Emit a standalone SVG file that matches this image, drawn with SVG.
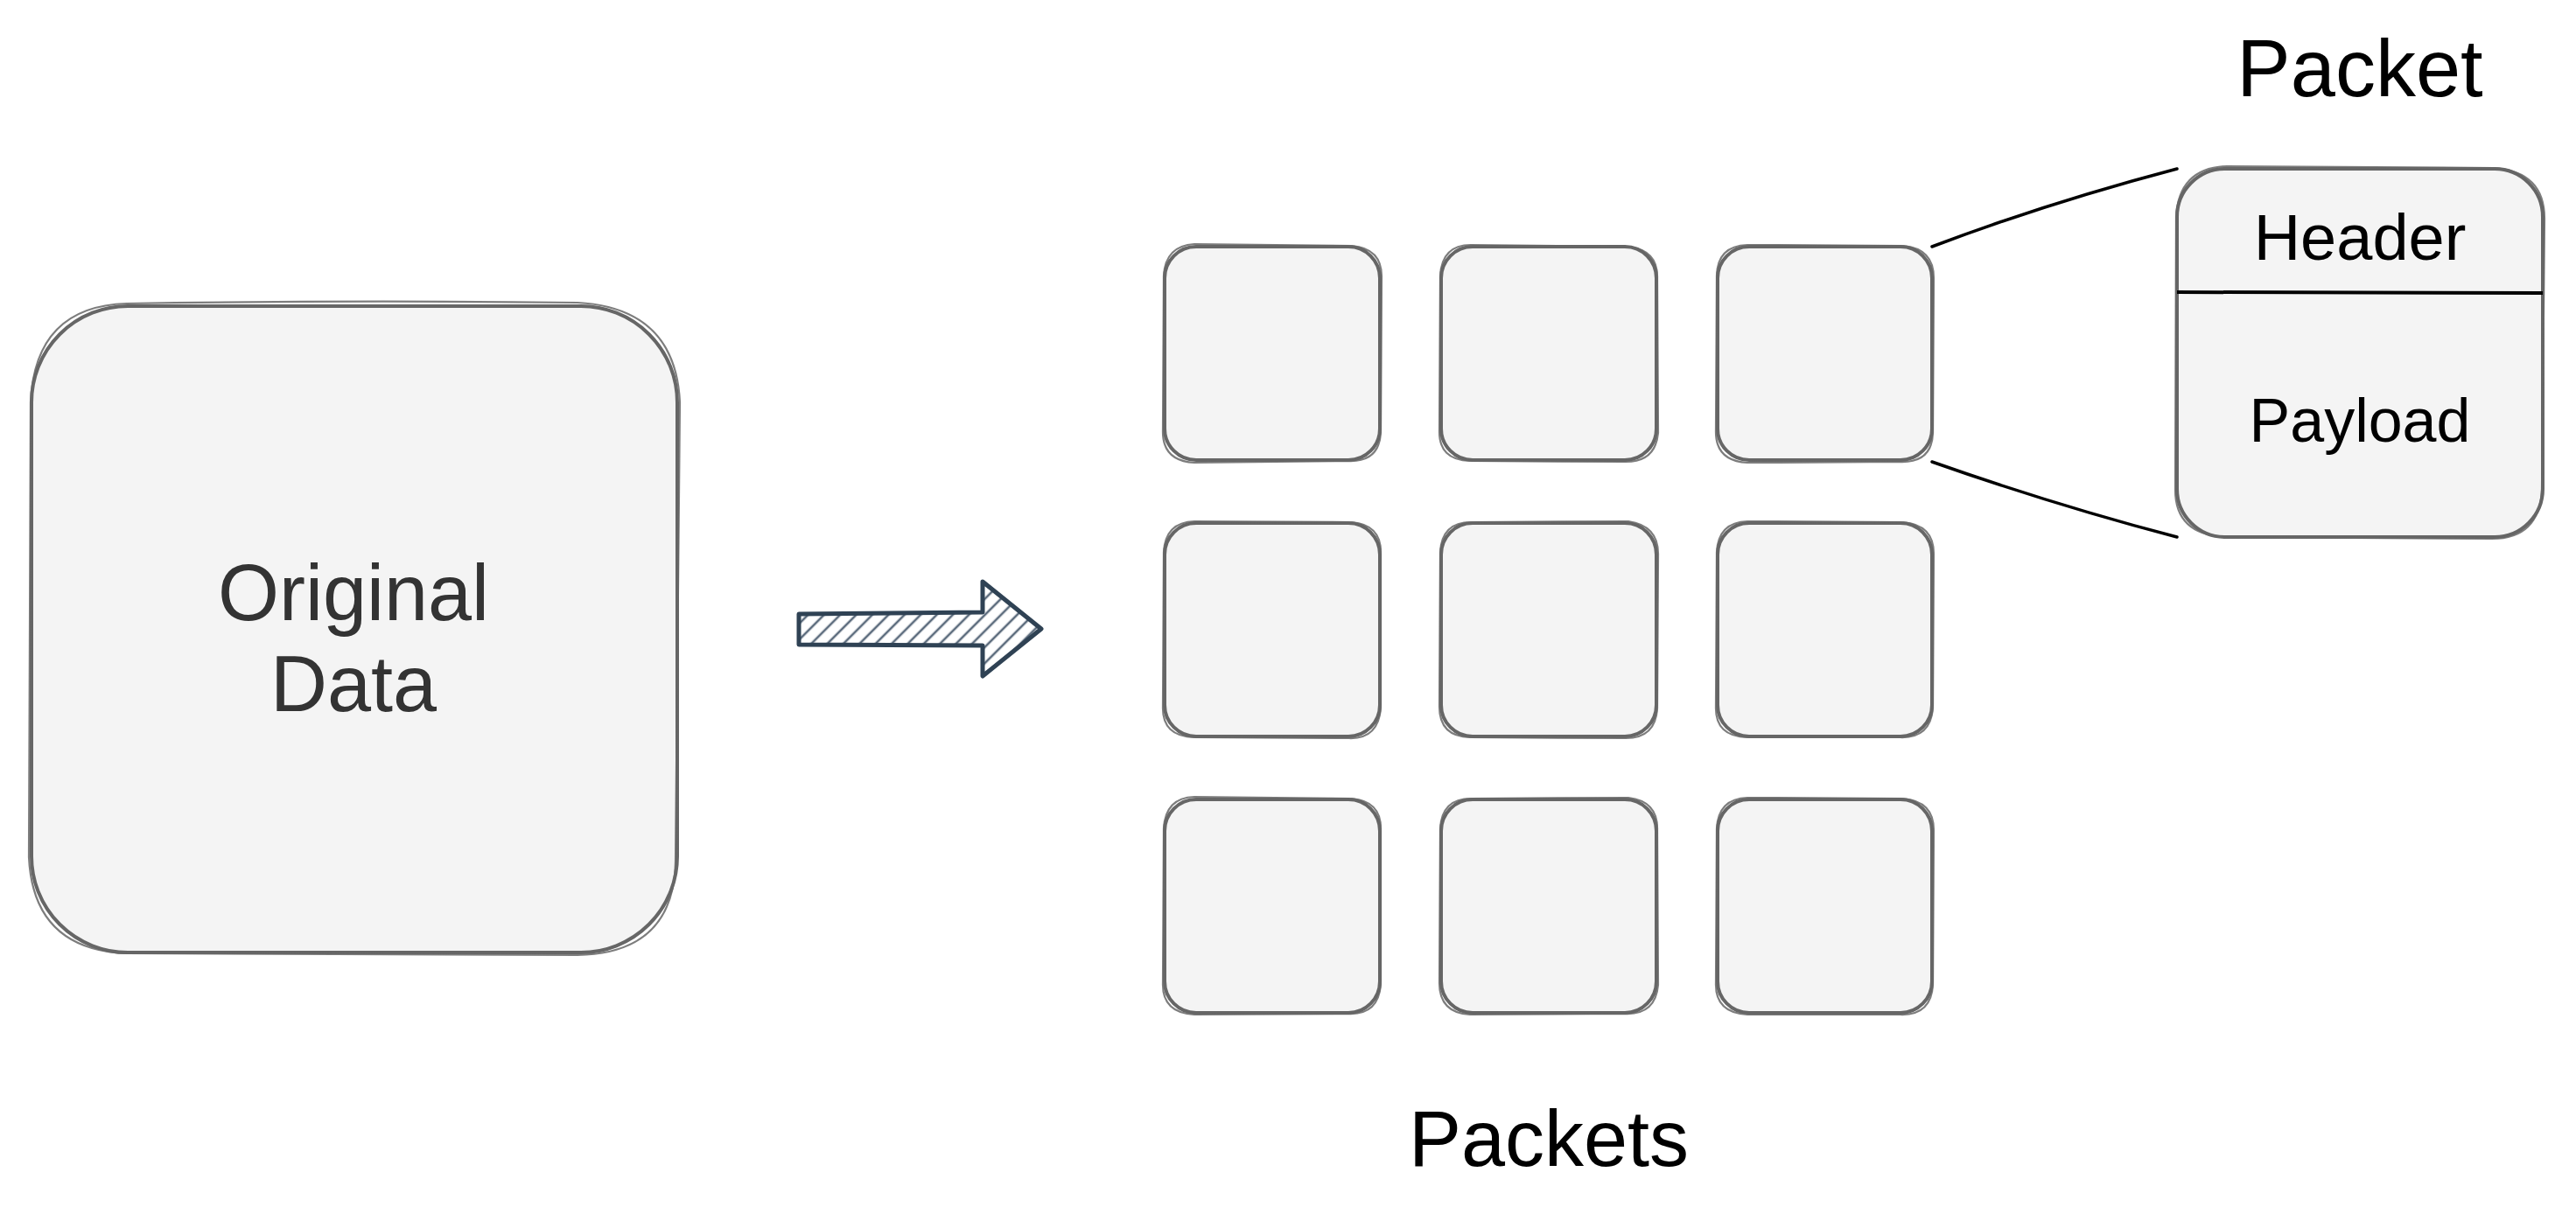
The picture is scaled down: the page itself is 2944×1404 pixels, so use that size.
<svg xmlns="http://www.w3.org/2000/svg" width="2944" height="1404" viewBox="0 0 2944 1404">
<style>
.box{fill:#f4f4f4;stroke:#666;stroke-width:4}
.sk{fill:none;stroke:#666;stroke-width:2.2;opacity:.85}
.lbl{font-family:"Liberation Sans",Arial,sans-serif;text-anchor:middle}
.con{fill:none;stroke:#000;stroke-width:3.5;stroke-linecap:round}
</style>
<defs>
<pattern id="hatch" width="13" height="13" patternUnits="userSpaceOnUse" patternTransform="rotate(45)">
<line x1="6" y1="0" x2="6" y2="13" stroke="#5b6b7c" stroke-width="2.6"/>
</pattern>
</defs>
<rect width="2944" height="1404" fill="#fff"/>

<g id="original-data">
<rect class="box" x="36" y="350" width="738" height="739" rx="110"/>
<path class="sk" d="M145 347 Q400 343 660 346 Q772 352 777 460 L772 985 Q770 1090 660 1092 L145 1090 Q38 1086 33 980 L35 460 Q40 350 145 347 Z"/>
<text class="lbl" x="404" y="709" font-size="90" fill="#333">Original</text>
<text class="lbl" x="404" y="813" font-size="90" fill="#333">Data</text>
</g>

<g id="split-arrow">
<path d="M913 702 L1123 700 L1123 665 L1190 719 L1123 773 L1123 738 L913 737 Z" fill="url(#hatch)" stroke="#2f4254" stroke-width="5" stroke-linejoin="round"/>
</g>

<g id="packet-1-1"><rect class="box" x="1331" y="282" width="246" height="244" rx="36"/><path class="sk" d="M1365 279 L1545 281 Q1580 284 1579 318 L1578 495 Q1576 528 1542 527 L1365 529 Q1328 527 1329 492 L1330 315 Q1332 281 1365 279Z"/></g>
<g id="packet-1-2"><rect class="box" x="1647" y="282" width="246" height="244" rx="36"/><path class="sk" d="M1681 280 L1861 282 Q1895 286 1894 318 L1895 495 Q1892 528 1858 528 L1680 527 Q1644 526 1645 492 L1646 315 Q1648 280 1681 280Z"/></g>
<g id="packet-1-3"><rect class="box" x="1963" y="282" width="245" height="244" rx="36"/><path class="sk" d="M1997 280 L2175 281 Q2210 284 2210 318 L2209 495 Q2208 529 2172 528 L1997 529 Q1960 527 1961 492 L1962 315 Q1963 281 1997 280Z"/></g>

<g id="packet-2-1"><rect class="box" x="1331" y="598" width="246" height="244" rx="36"/><path class="sk" d="M1365 596 L1545 597 Q1579 600 1578 633 L1578 810 Q1575 845 1542 844 L1365 843 Q1328 842 1329 808 L1330 631 Q1332 597 1365 596Z"/></g>
<g id="packet-2-2"><rect class="box" x="1647" y="598" width="246" height="244" rx="36"/><path class="sk" d="M1681 597 L1861 596 Q1895 601 1895 633 L1894 810 Q1892 844 1858 844 L1680 843 Q1645 842 1645 808 L1646 631 Q1648 597 1681 597Z"/></g>
<g id="packet-2-3"><rect class="box" x="1963" y="598" width="245" height="244" rx="36"/><path class="sk" d="M1997 596 L2175 597 Q2210 600 2210 633 L2209 810 Q2206 844 2172 843 L1997 843 Q1960 842 1961 808 L1962 631 Q1964 597 1997 596Z"/></g>

<g id="packet-3-1"><rect class="box" x="1331" y="914" width="246" height="244" rx="36"/><path class="sk" d="M1365 911 L1545 913 Q1579 916 1578 949 L1578 1126 Q1575 1160 1542 1159 L1365 1160 Q1328 1158 1329 1124 L1330 947 Q1332 912 1365 911Z"/></g>
<g id="packet-3-2"><rect class="box" x="1647" y="914" width="246" height="244" rx="36"/><path class="sk" d="M1681 913 L1861 912 Q1895 916 1894 949 L1895 1126 Q1892 1160 1858 1159 L1680 1160 Q1645 1158 1645 1124 L1646 947 Q1648 913 1681 913Z"/></g>
<g id="packet-3-3"><rect class="box" x="1963" y="914" width="245" height="244" rx="36"/><path class="sk" d="M1997 912 L2175 913 Q2210 916 2210 949 L2209 1126 Q2207 1161 2172 1160 L1997 1160 Q1960 1158 1961 1124 L1962 947 Q1964 913 1997 912Z"/></g>

<g id="packets-label"><text class="lbl" x="1770" y="1333" font-size="90" fill="#000">Packets</text></g>

<g id="packet-detail">
<rect class="box" x="2488" y="193" width="418" height="421" rx="55"/>
<path class="sk" d="M2545 190 L2850 192 Q2908 196 2908 250 L2905 560 Q2902 616 2848 616 L2545 614 Q2486 612 2486 560 L2487 248 Q2490 192 2545 190Z"/>
<line x1="2488" y1="334" x2="2906" y2="335" stroke="#000" stroke-width="4"/>
<text class="lbl" x="2697" y="297" font-size="74" fill="#000">Header</text>
<text class="lbl" x="2697" y="505" font-size="70" fill="#000">Payload</text>
</g>

<g id="packet-title"><text class="lbl" x="2697" y="110" font-size="92" fill="#000">Packet</text></g>

<g id="connectors">
<path class="con" d="M2208 282 Q2340 232 2488 193"/>
<path class="con" d="M2208 528 Q2350 578 2488 614"/>
</g>
</svg>
